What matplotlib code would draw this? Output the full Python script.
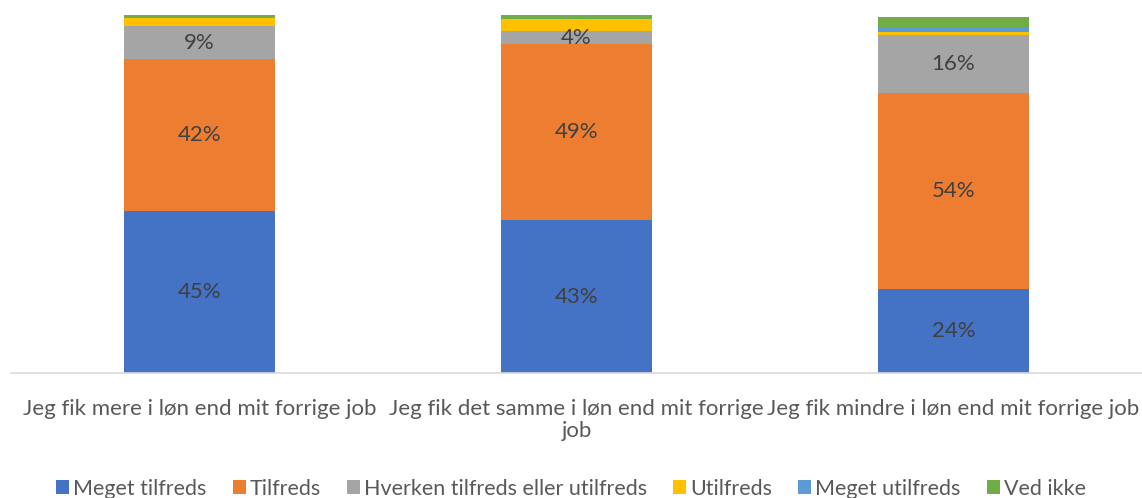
import matplotlib
matplotlib.use("Agg")
import matplotlib.pyplot as plt
import numpy as np

categories = ["Jeg fik mere i løn end mit forrige job",
              "Jeg fik det samme i løn end mit forrige\njob",
              "Jeg fik mindre i løn end mit forrige job"]
series_names = ["Meget tilfreds", "Tilfreds", "Hverken tilfreds eller utilfreds",
                "Utilfreds", "Meget utilfreds", "Ved ikke"]
meget_tilfreds = [45.2, 42.7, 23.6]
tilfreds = [42.4, 49.2, 54.5]
hverken = [9.4, 3.5, 16.4]
utilfreds = [2.3, 3.6, 0.8]
meget_utilfreds = [0.0, 0.0, 1.2]
ved_ikke = [0.7, 1.0, 3.0]
labels = [["45%", "43%", "24%"], ["42%", "49%", "54%"], ["9%", "4%", "16%"]]

colors = ["#4472C4", "#ED7D31", "#A5A5A5", "#FFC000", "#5B9BD5", "#70AD47"]
plt.rcParams['font.family'] = ['Lato', 'DejaVu Sans']

fig = plt.figure(figsize=(11.42, 4.98), dpi=100)
ax = fig.add_axes([11/1142, 125/498, 1 - 11/1142, (373-15)/498])
x = np.arange(len(categories))
data = [meget_tilfreds, tilfreds, hverken, utilfreds, meget_utilfreds, ved_ikke]
bottom = np.zeros(len(categories))
for i, (vals, name, c) in enumerate(zip(data, series_names, colors)):
    vals = np.array(vals)
    ax.bar(x, vals, 0.4, bottom=bottom, color=c, label=name)
    if i < 3:
        for j in range(len(x)):
            ax.text(x[j], bottom[j] + vals[j] / 2, labels[i][j], ha='center', va='center',
                    fontsize=16, color='#404040')
    bottom += vals

ax.set_xlim(-0.5, 2.5)
ax.set_ylim(0, 100)
ax.set_yticks([])
ax.set_xticks(x)
ax.set_xticklabels(categories, fontsize=16, color='#595959', linespacing=1.1)
ax.tick_params(axis='x', length=0, pad=19)
for s in ['top', 'right', 'left']:
    ax.spines[s].set_visible(False)
ax.spines['bottom'].set_color('#D9D9D9')
ax.spines['bottom'].set_linewidth(1.2)

fig.legend(loc='lower center', bbox_to_anchor=(0.5, -0.04), ncol=6, frameon=False,
           fontsize=15.5, labelcolor='#595959', handlelength=0.6, handleheight=0.6,
           handletextpad=0.2, columnspacing=1.2)
fig.savefig("out.png", dpi=100)
